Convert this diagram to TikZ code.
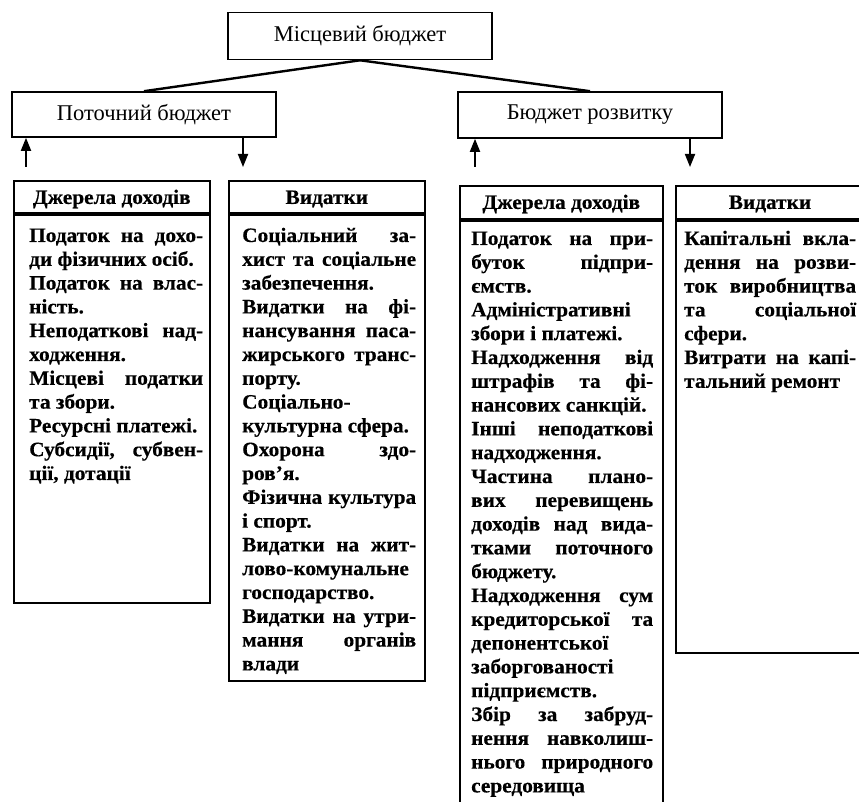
\documentclass[tikz,border=0pt]{standalone}
\usepackage{fontspec}
\setmainfont{Liberation Serif}
\newfontfamily\bodyfont[FakeStretch=1.04,FakeBold=0.4]{Liberation Serif}
\usetikzlibrary{arrows.meta}
\newcommand\topfont{\fontsize{22.5}{26}\selectfont}
\newcommand\hdrfont{\bodyfont\bfseries\fontsize{20.5}{24}\selectfont}
\newcommand\bodysetup{\bodyfont\bfseries\fontsize{20.5}{23.8}\selectfont
  \parindent=0pt\parskip=0pt\hyphenpenalty=10000\exhyphenpenalty=10000
  \tolerance=10000\hbadness=10000\hfuzz=30pt}
\newcommand\colbody[2]{\parbox[t]{#1}{\bodysetup #2}}
\tikzset{
  box/.style={draw, line width=1.6pt, inner sep=0pt},
  topbox/.style={box, font=\topfont, minimum width=264pt},
  conn/.style={line width=2.4pt},
  arr/.style={line width=1.8pt, -{Triangle[length=13pt,width=10pt]}},
  colbox/.style={box, anchor=north west},
  sepline/.style={line width=3.5pt},
  hdr/.style={font=\hdrfont, inner sep=0pt},
  body/.style={anchor=base west, inner sep=0pt},
}
\begin{document}
\begin{tikzpicture}[x=1pt,y=-1pt]
\fill[white] (0,0) rectangle (859,802);
\useasboundingbox (0,0) rectangle (859,802);

% top level
\node[topbox, minimum height=47pt] (mb) at (360,36) {Місцевий бюджет};
\node[topbox, minimum height=45pt] (pb) at (144,114.5) {Поточний бюджет};
\node[topbox, minimum height=46pt] (br) at (590,115) {Бюджет розвитку};
\draw[conn] (mb.south) -- (pb.north);
\draw[conn] (mb.south) -- (br.north);

% arrows
\coordinate (u1) at (26,167);
\coordinate (d1) at (243,167);
\coordinate (u2) at (475,167);
\coordinate (d2) at (690,167);
\draw[arr] (u1) -- (u1 |- pb.south);
\draw[arr] (d1 |- pb.south) -- (d1);
\draw[arr] (u2) -- (u2 |- br.south);
\draw[arr] (d2 |- br.south) -- (d2);

% columns
\node[colbox, minimum width=196pt, minimum height=422pt] (c1) at (13,180) {};
\node[colbox, minimum width=196pt, minimum height=500pt] (c2) at (228,180) {};
\node[colbox, minimum width=203pt, minimum height=650pt] (c3) at (459,185) {};
\node[colbox, minimum width=192pt, minimum height=467pt] (c4) at (675,185) {};

\draw[sepline] (c1.west |- 0,214) -- (c1.east |- 0,214);
\draw[sepline] (c2.west |- 0,214) -- (c2.east |- 0,214);
\draw[sepline] (c3.west |- 0,220) -- (c3.east |- 0,220);
\draw[sepline] (c4.west |- 0,220) -- (c4.east |- 0,220);

\node[hdr] (h1) at (c1.north |- 0,199) {Джерела доходів};
\node[hdr] (h2) at (c2.north |- 0,199) {Видатки};
\node[hdr] (h3) at (c3.north |- 0,204) {Джерела доходів};
\node[hdr] (h4) at (770,204) {Видатки};

\node[body] (b1) at (29,242) {\colbody{174pt}{%
Податок на дохо-\linebreak ди фізичних осіб.\par
Податок на влас-\linebreak ність.\par
Неподаткові над-\linebreak ходження.\par
Місцеві податки\linebreak та збори.\par
Ресурсні платежі.\par
Субсидії, субвен-\linebreak ції, дотації}};

\node[body] (b2) at (242,242) {\colbody{174pt}{%
Соціальний за-\linebreak хист та соціальне\linebreak забезпечення.\par
Видатки на фі-\linebreak нансування паса-\linebreak жирського транс-\linebreak порту.\par
Соціально-\linebreak культурна сфера.\par
Охорона здо-\linebreak ров’я.\par
Фізична культура\linebreak і спорт.\par
Видатки на жит-\linebreak лово-комунальне\linebreak господарство.\par
Видатки на утри-\linebreak мання органів\linebreak влади}};

\node[body] (b3) at (471,245) {\colbody{182pt}{%
Податок на при-\linebreak буток підпри-\linebreak ємств.\par
Адміністративні\linebreak збори і платежі.\par
Надходження від\linebreak штрафів та фі-\linebreak нансових санкцій.\par
Інші неподаткові\linebreak надходження.\par
Частина плано-\linebreak вих перевищень\linebreak доходів над вида-\linebreak тками поточного\linebreak бюджету.\par
Надходження сум\linebreak кредиторської та\linebreak депонентської\linebreak заборгованості\linebreak підприємств.\par
Збір за забруд-\linebreak нення навколиш-\linebreak нього природного\linebreak середовища}};

\node[body] (b4) at (684,245) {\colbody{172pt}{%
Капітальні вкла-\linebreak дення на розви-\linebreak ток виробництва\linebreak та соціальної\linebreak сфери.\par
Витрати на капі-\linebreak тальний ремонт}};
\end{tikzpicture}
\end{document}
